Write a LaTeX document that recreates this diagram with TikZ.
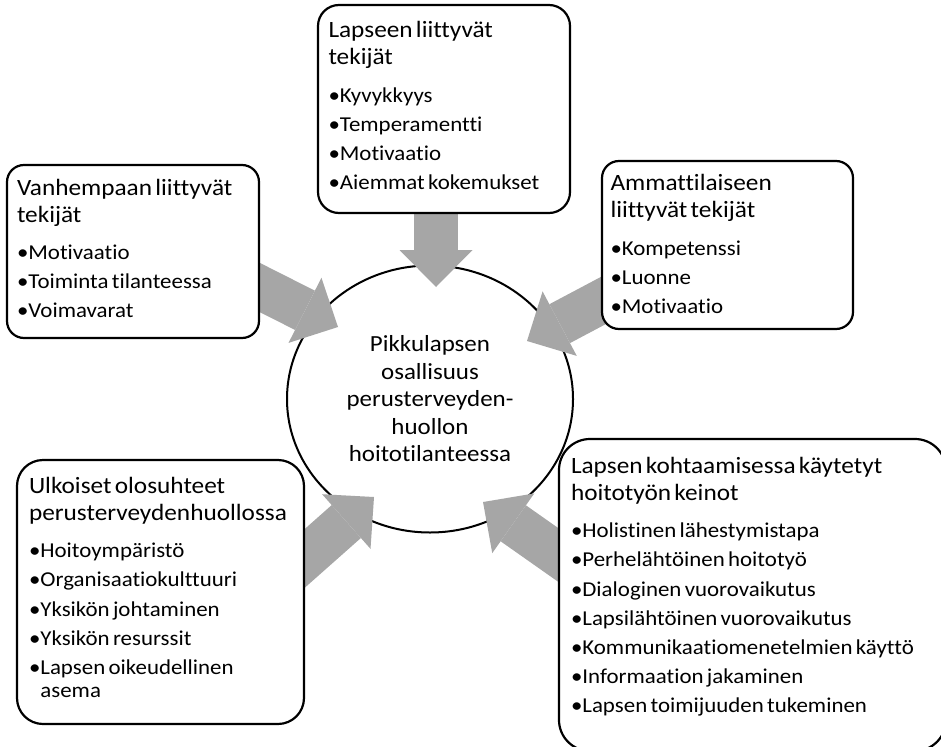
\documentclass[tikz,border=0pt]{standalone}
\usepackage{fontspec}
\setmainfont{Carlito}[Ligatures=NoCommon,FakeStretch=1.08]
\usetikzlibrary{arrows.meta,shapes.geometric,calc}

\definecolor{arrowgrey}{HTML}{A6A6A6}
\newcommand{\headfont}{\fontsize{23.4}{27.1}\selectfont}
\newcommand{\itemfont}{\fontsize{21.2}{23.3}\selectfont}
\newcommand{\factorhead}[1]{{\headfont #1\par}\vspace{8.1pt}}
\newcommand{\factoritem}[1]{\vspace{5.9pt}{\itemfont •#1\par}}

\pgfdeclarelayer{coreback}
\pgfdeclarelayer{arrowmid}
\pgfsetlayers{coreback,arrowmid,main}

\begin{document}
\begin{tikzpicture}[x=1pt,y=-1pt,
  factorbox/.style={rectangle,draw,line width=2.2pt,fill=white,
    anchor=north west,outer sep=0pt,inner ysep=0pt,align=left},
  core/.style={ellipse,draw,line width=2pt,fill=white,inner sep=0pt,outer sep=0pt,
    minimum width=286pt,minimum height=267pt,align=center,
    font=\fontsize{23.1}{27.5}\selectfont},
  flow/.style={draw=arrowgrey,line width=44pt,
    -{Triangle[width=73pt,length=37pt,line width=0pt]}}]
\useasboundingbox (0,0) rectangle (941,746);
\clip (0,0) rectangle (941,746);

% centre
\begin{pgfonlayer}{coreback}
\node[core] (core) at (430,399) {Pikkulapsen\\osallisuus\\perusterveyden-\\huollon\\hoitotilanteessa};
\end{pgfonlayer}

% factor boxes
\node[factorbox,rounded corners=21pt,inner xsep=10.5pt,text width=231pt,
  text height=32.7pt,text depth=175.3pt] (lapsi) at (318,5) {%
  \factorhead{Lapseen liittyvät\\tekijät}
  \factoritem{Kyvykkyys}
  \factoritem{Temperamentti}
  \factoritem{Motivaatio}
  \factoritem{Aiemmat kokemukset}};
\node[factorbox,rounded corners=17pt,inner xsep=10pt,text width=232pt,
  text height=30pt,text depth=143pt] (vanhempi) at (7,165) {%
  \factorhead{Vanhempaan liittyvät\\tekijät}
  \factoritem{Motivaatio}
  \factoritem{Toiminta tilanteessa}
  \factoritem{Voimavarat}};
\node[factorbox,rounded corners=17pt,inner xsep=8.5pt,text width=234pt,
  text height=29.7pt,text depth=138.3pt] (ammatti) at (602,161) {%
  \factorhead{Ammattilaiseen\\liittyvät tekijät}
  \factoritem{Kompetenssi}
  \factoritem{Luonne}
  \factoritem{Motivaatio}};
\node[factorbox,rounded corners=26pt,inner xsep=12pt,text width=263pt,
  text height=33.3pt,text depth=230.7pt] (ulkoiset) at (17,460) {%
  \factorhead{Ulkoiset olosuhteet\\perusterveydenhuollossa}
  \factoritem{Hoitoympäristö}
  \factoritem{Organisaatiokulttuuri}
  \factoritem{Yksikön johtaminen}
  \factoritem{Yksikön resurssit}
  \factoritem{Lapsen oikeudellinen\\\phantom{•}asema}};
\node[factorbox,rounded corners=31pt,inner xsep=12pt,text width=363pt,
  text height=34.3pt,text depth=277.7pt] (keinot) at (559,439) {%
  \factorhead{Lapsen kohtaamisessa käytetyt\\hoitotyön keinot}
  \factoritem{Holistinen lähestymistapa}
  \factoritem{Perhelähtöinen hoitotyö}
  \factoritem{Dialoginen vuorovaikutus}
  \factoritem{Lapsilähtöinen vuorovaikutus}
  \factoritem{Kommunikaatiomenetelmien käyttö}
  \factoritem{Informaation jakaminen}
  \factoritem{Lapsen toimijuuden tukeminen}};

% arrow tips inside the circle
\coordinate (tipLapsi) at ($(core.center)+(6,-112)$);
\coordinate (tipVanhempi) at ($(core.center)+(-92,-72)$);
\coordinate (tipAmmatti) at ($(core.center)+(97,-58)$);
\coordinate (tipUlkoiset) at ($(core.center)+(-56,98)$);
\coordinate (tipKeinot) at ($(core.center)+(53,103)$);

% arrows
\begin{pgfonlayer}{arrowmid}
\draw[flow] ($(lapsi.south)+(-8,-13)$) -- (tipLapsi);
\draw[flow] ($(vanhempi.east)+(-20,25.5)$) -- (tipVanhempi);
\draw[flow] ($(ammatti.west)+(20,45.6)$) -- (tipAmmatti);
\draw[flow] ($(ulkoiset.east)+(-18.7,-16.4)$) -- (tipUlkoiset);
\draw[flow] ($(keinot.west)+(20.5,-25.1)$) -- (tipKeinot);
\end{pgfonlayer}
\end{tikzpicture}
\end{document}
